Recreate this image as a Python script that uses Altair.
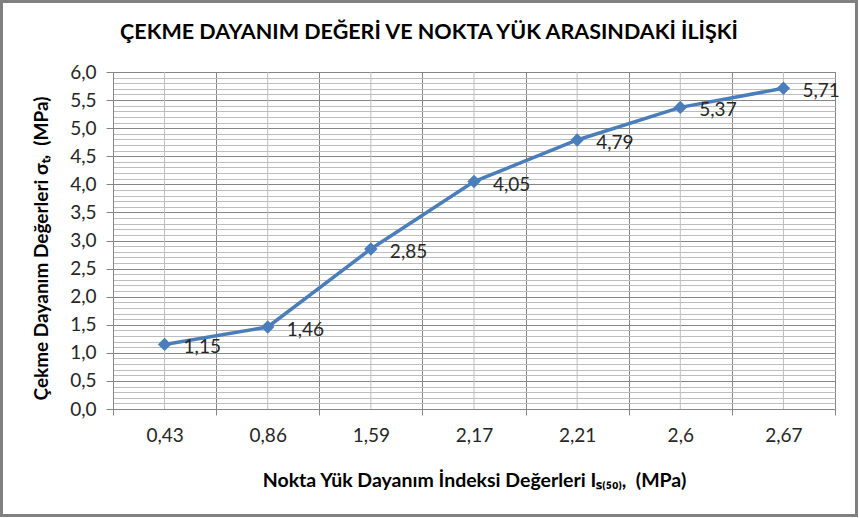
import altair as alt
import pandas as pd

categories = ["0,43", "0,86", "1,59", "2,17", "2,21", "2,6", "2,67"]
values = [1.15, 1.46, 2.85, 4.05, 4.79, 5.37, 5.71]
y_ticks = [round(i * 0.1, 1) for i in range(61)]

title_text = "ÇEKME DAYANIM DEĞERİ VE NOKTA YÜK ARASINDAKİ İLİŞKİ"
x_title = "Nokta Yük Dayanım İndeksi Değerleri Iₛ₍₅₀₎,\u00a0\u00a0(MPa)"
y_title = "Çekme Dayanım Değerleri σₜ,\u00a0\u00a0(MPa)"

df = pd.DataFrame({"cat": categories, "val": values})

FONT = "Lato"
BLUE = "#4A7EBB"
MAJOR = "#868686"
MINOR = "#BDBDBD"
TXT = "#262626"

W, H = 722, 337

x_enc = alt.X(
    "cat:N",
    sort=None,
    scale=alt.Scale(paddingInner=0, paddingOuter=0),
    axis=alt.Axis(
        title=x_title,
        tickBand="extent",
        grid=True,
        gridColor=MAJOR,
        gridWidth=1,
        domainColor=MAJOR,
        tickColor=MAJOR,
        tickSize=6,
        labelAngle=0,
        labelFont=FONT,
        labelFontSize=19,
        labelColor=TXT,
        labelPadding=11,
        titleFont=FONT,
        titleFontSize=19.5,
        titleFontWeight="bold",
        titleColor="#000000",
        titlePadding=26,
    ),
)

y_scale = alt.Scale(domain=[0, 6], nice=False)

y_axis = alt.Axis(
    title=y_title,
    values=y_ticks,
    grid=True,
    gridColor={"condition": {"test": "round(datum.value*10) % 5 == 0", "value": MAJOR}, "value": MINOR},
    tickOpacity={"condition": {"test": "round(datum.value*10) % 5 == 0", "value": 1}, "value": 0},
    tickColor=MAJOR,
    tickSize=7,
    domainColor=MAJOR,
    labelExpr="round(datum.value*10) % 5 == 0 ? replace(format(datum.value, '.1f'), '.', ',') : ''",
    labelFont=FONT,
    labelFontSize=19,
    labelColor=TXT,
    labelPadding=10,
    titleFont=FONT,
    titleFontSize=19,
    titleFontWeight="bold",
    titleColor="#000000",
    titlePadding=18,
    titleY=176,
    titleAlign="center",
)

y_enc = alt.Y("val:Q", scale=y_scale, axis=y_axis)

base = alt.Chart(df)

minor_v = base.mark_rule(color=MINOR, strokeWidth=1).encode(
    x=x_enc,
    y=alt.value(0),
    y2=alt.value(H),
)

line = base.mark_line(color=BLUE, strokeWidth=3.5).encode(x=x_enc, y=y_enc)

points = base.mark_point(shape="diamond", filled=True, color=BLUE, size=180, opacity=1).encode(
    x=x_enc, y=y_enc
)

labels = base.transform_calculate(
    lbl="replace(format(datum.val, '.2f'), '.', ',')"
).mark_text(align="left", baseline="middle", dx=19, dy=3, font=FONT, fontSize=19, color=TXT).encode(
    x=x_enc, y=y_enc, text="lbl:N"
)

one = pd.DataFrame({"t": [title_text]})

title = alt.Chart(one).mark_text(
    font=FONT, fontSize=21.5, fontWeight="bold", color="#000000", align="center", baseline="middle"
).encode(
    x=alt.value(316),
    y=alt.value(-39),
    text="t:N",
)

frame = alt.Chart(one).mark_rect(
    fill=None, stroke="#808080", strokeWidth=3
).encode(
    x=alt.value(-111.5),
    x2=alt.value(W + 21.5),
    y=alt.value(-70.5),
    y2=alt.value(H + 106.5),
)

chart = alt.layer(minor_v, line, points, labels, title, frame).properties(
    width=W,
    height=H,
    autosize=alt.AutoSizeParams(type="none"),
    padding={"left": 113, "top": 72, "right": 24, "bottom": 109},
    background="white",
).configure_view(stroke=MAJOR, strokeWidth=1)

chart.save("out.html", embed_options={"renderer": "svg", "actions": False})
